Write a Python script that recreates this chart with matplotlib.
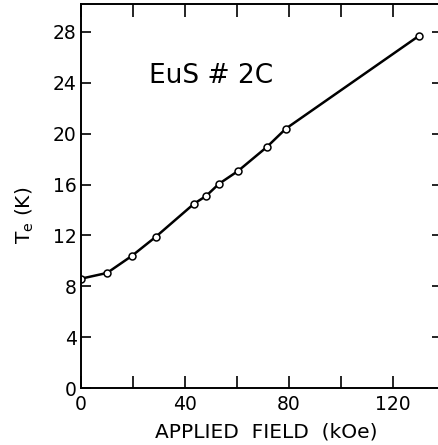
import numpy as np
import matplotlib
matplotlib.use('Agg')
import matplotlib.pyplot as plt

# Datos (campo en kOe, temperatura en K)
field_koe = [0, 10, 19.6, 28.8, 43.5, 48.1, 53.0, 60.4, 71.5, 78.8, 130.0]
temp_k = [8.6, 9.05, 10.4, 11.9, 14.5, 15.1, 16.05, 17.07, 18.96, 20.4, 27.7]

x_ticks = [0, 40, 80, 120]
x_minor = [20, 60, 100]
y_ticks = [0, 4, 8, 12, 16, 20, 24, 28]

plt.rcParams['font.family'] = ['DejaVu Sans']
plt.rcParams['mathtext.fontset'] = 'dejavusans'

fig = plt.figure(figsize=(4.38, 4.45), dpi=100)
ax = fig.add_axes([0.185, 0.128, 0.815, 0.863])

ax.plot(field_koe, temp_k, color='black', lw=1.8, marker='o', ms=5,
        mfc='white', mec='black', mew=1.1, solid_capstyle='round')

ax.set_xlim(0, 137.3)
ax.set_ylim(0, 30.2)

ax.spines['right'].set_visible(False)
for s in ['left', 'bottom', 'top']:
    ax.spines[s].set_linewidth(1.4)

ax.set_xticks(x_ticks)
ax.set_xticks(x_minor, minor=True)
ax.set_yticks(y_ticks)
ax.tick_params(axis='x', which='both', direction='in', length=9, width=1.2,
               labelsize=13.5, pad=5, top=False)
ax.tick_params(axis='y', direction='in', length=7, width=1.2,
               labelsize=13.5, pad=3)

# ticks arriba y a la derecha, sin etiquetas
top = ax.secondary_xaxis('top')
top.set_xticks(x_ticks + x_minor)
top.tick_params(direction='in', length=9, width=1.2, labeltop=False)
top.spines['top'].set_visible(False)

right = ax.secondary_yaxis('right')
right.set_yticks(y_ticks[1:])
right.tick_params(direction='in', length=4, width=1.2, labelright=False)
right.spines['right'].set_visible(False)

ax.set_xlabel('APPLIED  FIELD  (kOe)', fontsize=14.5, labelpad=4)
ax.xaxis.set_label_coords(0.52, -0.09)
ax.set_ylabel(r'T$_{\mathrm{e}}$ (K)', fontsize=14.5)
ax.yaxis.set_label_coords(-0.125, 0.45)

ax.text(0.19, 0.795, 'EuS # 2C', transform=ax.transAxes, fontsize=19)

fig.savefig('out.png', dpi=100)
